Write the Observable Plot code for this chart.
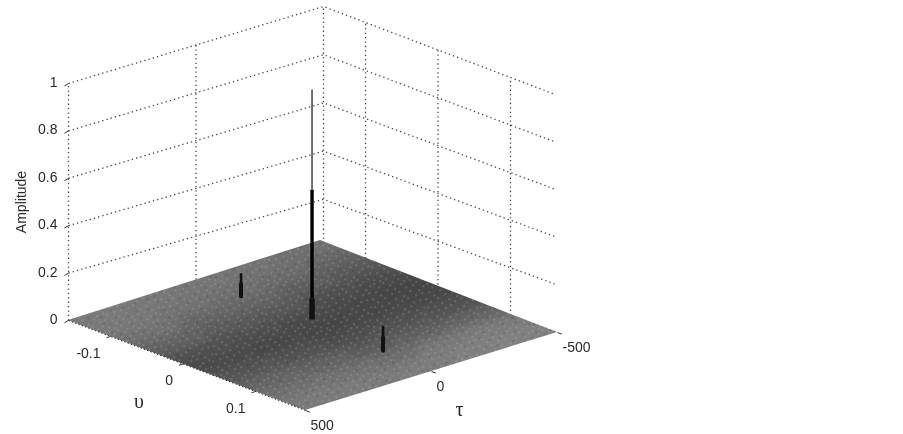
<!DOCTYPE html>
<html>
<head>
<meta charset="utf-8">
<script src="https://cdn.jsdelivr.net/npm/d3@7"></script>
<script src="https://cdn.jsdelivr.net/npm/@observablehq/plot@0.6"></script>
<style>
html,body{margin:0;padding:0;background:#fff}
svg{display:block;filter:blur(0.35px)}
</style>
</head>
<body>
<div id="chart"></div>
<script>
// ---- values ----
const tauTicks = [500, 0, -500];
const nuTicks = [-0.1, 0, 0.1];
const ampTicks = [0, 0.2, 0.4, 0.6, 0.8, 1];
const tauRange = [500, -500];
const nuRange = [-0.158, 0.169];
const nuWallEnd = 0.162;

// spikes of the ambiguity function: main peak and the two side peaks
const spikeTau = -12;
const sideSpikeNu = [-0.098, 0.098];
const sideSpikeAmp = [0.093, 0.1];
const mainSpikeAmp = [0.017, 0.105, 0.565, 0.987];

// floor grey level, read per patch: rows follow nu, columns follow tau
const floorNuEdges = [-0.2, -0.125, -0.092, -0.06, -0.027, 0.005, 0.038, 0.071, 0.103, 0.136, 0.21];
const floorTauEdges = [620, 300, 100, -100, -300, -620];
const floorGrey = [
  [122, 120, 118, 115, 112],
  [120, 115, 112, 108, 100],
  [112, 102, 102, 94, 88],
  [98, 90, 88, 80, 76],
  [80, 78, 74, 72, 70],
  [74, 72, 70, 72, 72],
  [84, 82, 78, 82, 82],
  [100, 98, 92, 96, 100],
  [112, 112, 110, 120, 122],
  [122, 122, 124, 128, 128]
];

// ---- view of the 3-D box: corner x, corner y, pixels per unit of amplitude ----
const surfaceCorners = {L: [68, 320, 237], B: [305, 410, 237], R: [557, 332, 237], T: [320, 240, 237]};
const boxCorners = {L: [68, 320, 237], B: [305, 410, 237], R: [560, 333, 237], T: [323, 247, 241]};

function project(corners, tau, nu, amp = 0) {
  const u = (nu - nuRange[0]) / (nuRange[1] - nuRange[0]);
  const v = (tau - tauRange[0]) / (tauRange[1] - tauRange[0]);
  const {L, B, R, T} = corners;
  const mix = i => (1 - u) * (1 - v) * L[i] + u * (1 - v) * B[i] + u * v * R[i] + (1 - u) * v * T[i];
  return {x: mix(0), y: mix(1) - amp * mix(2)};
}
const onFloor = (tau, nu, amp) => project(surfaceCorners, tau, nu, amp);
const onBox = (tau, nu, amp) => project(boxCorners, tau, nu, amp);

// ---- derived tables for the marks ----
// every floor patch is one wide stroke running along tau
const cells = [];
floorGrey.forEach((row, i) => row.forEach((level, j) => {
  const nuMid = (floorNuEdges[i] + floorNuEdges[i + 1]) / 2;
  const a = onFloor(floorTauEdges[j], nuMid), b = onFloor(floorTauEdges[j + 1], nuMid);
  const p = onFloor(floorTauEdges[j], floorNuEdges[i]), q = onFloor(floorTauEdges[j], floorNuEdges[i + 1]);
  const dx = b.x - a.x, dy = b.y - a.y;
  const w = Math.abs((q.x - p.x) * dy - (q.y - p.y) * dx) / Math.hypot(dx, dy);
  cells.push({x1: a.x, y1: a.y, x2: b.x, y2: b.y, level, w: w * 1.15});
}));
const corners = [[500, nuRange[0]], [-500, nuRange[0]], [-500, nuRange[1]], [500, nuRange[1]]]
  .map(([t, n]) => onFloor(t, n));
const grainStart = onFloor(1100, 0), grainEnd = onFloor(-1100, 0);

const wallLines = [];
let wid = 0;
const addWall = pts => { const id = wid++; pts.forEach(p => wallLines.push({...p, id})); };
const wallNuStart = nuRange[0];
ampTicks.forEach(a => {
  addWall([onBox(500, wallNuStart, a), onBox(-500, wallNuStart, a), onBox(-500, nuWallEnd, a)]);
});
[500, 0, -500].forEach(t => addWall([onBox(t, wallNuStart, 0), onBox(t, wallNuStart, 1)]));
nuTicks.forEach(n => addWall([onBox(-500, n, 0), onBox(-500, n, 1)]));

const tickLinks = [
  ...ampTicks.map(a => [onBox(500, nuRange[0], a), onBox(516, nuRange[0], a - 0.005)]),
  ...nuTicks.map(n => [onFloor(500, n), onFloor(516, n)]),
  ...tauTicks.map(t => [onFloor(t, nuRange[1]), onFloor(t, nuRange[1] + 0.006)])
].map(([a, b]) => ({x1: a.x, y1: a.y, x2: b.x, y2: b.y}));

const spikeSeg = (nu, a0, a1) => [onFloor(spikeTau, nu, a0), onFloor(spikeTau, nu, a1)];
const font = "Liberation Sans, Arial, sans-serif";
const ink = "#2a2a2a";

const speckLight = [[2,1],[7,4],[11,0],[18,2],[23,6],[29,1],[34,4],[41,2],[47,7],[51,3],
  [4,9],[9,12],[15,7],[20,11],[27,9],[32,13],[38,8],[44,12],[50,10],
  [1,16],[6,19],[13,15],[17,20],[24,16],[30,18],[36,15],[42,19],[48,17],
  [3,24],[10,23],[14,27],[21,25],[26,22],[33,26],[39,23],[45,27],[52,24],
  [0,31],[7,29],[12,33],[19,30],[25,34],[31,31],[37,29],[43,33],[49,30],
  [5,37],[9,40],[16,36],[22,39],[28,37],[35,41],[40,36],[46,39],[51,37],
  [2,44],[8,45],[14,43],[20,46],[26,43],[32,45],[38,44],[44,46],[49,43]];
const speckDark = [[5,2],[14,4],[26,3],[37,1],[45,4],[1,8],[11,10],[22,8],[35,11],[47,13],
  [8,17],[19,15],[28,20],[40,16],[51,19],[4,27],[16,25],[29,28],[41,26],[9,34],[21,33],[34,35],[47,34],
  [3,41],[13,39],[25,41],[37,40],[50,41]];

const plot = Plot.plot({
  width: 903,
  height: 434,
  margin: 0,
  x: {domain: [0, 903], range: [0, 903], axis: null},
  y: {domain: [0, 434], range: [0, 434], axis: null},
  color: {type: "linear", domain: [0, 255], range: ["#000", "#fff"]},
  style: {background: "#fff"},
  marks: [
    Plot.line(wallLines, {x: "x", y: "y", z: "id", stroke: "#444", strokeWidth: 1.3, strokeLinecap: "butt", strokeDasharray: "1.3,3.1"}),
    Plot.link(cells, {x1: "x1", y1: "y1", x2: "x2", y2: "y2", stroke: "level", strokeWidth: "w"}),
    Plot.link([{a: grainStart, b: grainEnd}], {x1: d => d.a.x, y1: d => d.a.y, x2: d => d.b.x, y2: d => d.b.y, stroke: "#000", strokeWidth: 520}),
    Plot.line([corners[0], corners[3]], {x: "x", y: "y", stroke: "#222", strokeWidth: 1, strokeLinecap: "butt", strokeDasharray: "1.5,2"}),
    Plot.link(tickLinks, {x1: "x1", y1: "y1", x2: "x2", y2: "y2", stroke: "#333", strokeWidth: 1}),
    // side spikes
    ...sideSpikeNu.flatMap((nu, i) => [
      Plot.line(spikeSeg(nu, 0, sideSpikeAmp[i] * 0.55), {x: "x", y: "y", stroke: "#111", strokeWidth: 4}),
      Plot.line(spikeSeg(nu, 0, sideSpikeAmp[i]), {x: "x", y: "y", stroke: "#111", strokeWidth: 2.6})
    ]),
    // main peak
    Plot.line(spikeSeg(0, mainSpikeAmp[0], mainSpikeAmp[1]), {x: "x", y: "y", stroke: "#111", strokeWidth: 5.5, strokeLinecap: "butt"}),
    Plot.line(spikeSeg(0, mainSpikeAmp[1], mainSpikeAmp[2]), {x: "x", y: "y", stroke: "#000", strokeWidth: 3.4, strokeLinecap: "butt"}),
    Plot.line(spikeSeg(0, mainSpikeAmp[2], mainSpikeAmp[3]), {x: "x", y: "y", stroke: "#444", strokeWidth: 1.5, strokeLinecap: "butt"}),
    // tick labels
    Plot.text(ampTicks, {
      x: a => onBox(500, nuRange[0], a).x, y: a => onBox(500, nuRange[0], a).y,
      text: d => String(d), textAnchor: "end", dx: -11, dy: -1, fontSize: 14, fontFamily: font, fill: ink
    }),
    Plot.text(nuTicks, {
      x: n => onFloor(500, n).x, y: n => onFloor(500, n).y,
      text: d => String(d), textAnchor: "end", dx: -10, dy: 17, fontSize: 14, fontFamily: font, fill: ink
    }),
    Plot.text(tauTicks, {
      x: t => onFloor(t, nuRange[1]).x, y: t => onFloor(t, nuRange[1]).y,
      text: d => String(d), textAnchor: "start", dx: 5, dy: 15, fontSize: 14, fontFamily: font, fill: ink
    }),
    // axis names
    Plot.text(["Amplitude"], {
      x: () => onBox(500, nuRange[0], 0.5).x, y: () => onBox(500, nuRange[0], 0.5).y,
      text: d => d, rotate: -90, dx: -47, fontSize: 14, fontFamily: font, fill: ink
    }),
    Plot.text(["υ"], {
      x: () => onFloor(500, 0).x, y: () => onFloor(500, 0).y,
      text: d => d, dx: -44, dy: 38, fontSize: 20, fontFamily: "Liberation Serif, serif", fill: ink
    }),
    Plot.text(["τ"], {
      x: () => onFloor(0, nuRange[1]).x, y: () => onFloor(0, nuRange[1]).y,
      text: d => d, dx: 28, dy: 38, fontSize: 20, fontFamily: "Liberation Serif, serif", fill: ink
    })
  ]
});

// surface shading: soften the patches, keep them inside the floor; grain tile
const NS = "http://www.w3.org/2000/svg";
const defs = document.createElementNS(NS, "defs");
const pathD = "M" + corners.map(p => `${p.x},${p.y}`).join("L") + "Z";
const rects = (list, fill, op) => list.map(([x, y]) =>
  `<rect x="${x}" y="${y}" width="1.3" height="1.3" fill="${fill}" fill-opacity="${op}"/>`).join("");
defs.innerHTML = `<clipPath id="floorClip"><path d="${pathD}"/></clipPath>
<pattern id="speckle" patternUnits="userSpaceOnUse" width="53" height="47">
${rects(speckLight, "#c8c8c8", 0.5)}${rects(speckDark, "#202020", 0.4)}
</pattern>`;
plot.insertBefore(defs, plot.firstChild);
const links = plot.querySelectorAll('g[aria-label="link"]');
const floorG = links[0], grainG = links[1];
const wrap = document.createElementNS(NS, "g");
wrap.setAttribute("clip-path", "url(#floorClip)");
floorG.parentNode.insertBefore(wrap, floorG);
wrap.appendChild(floorG);
wrap.appendChild(grainG);
floorG.style.filter = "blur(5px)";
grainG.setAttribute("stroke", "url(#speckle)");
grainG.querySelectorAll("path,line").forEach(el => el.setAttribute("stroke", "url(#speckle)"));
document.getElementById("chart").appendChild(plot);
</script>
</body>
</html>
